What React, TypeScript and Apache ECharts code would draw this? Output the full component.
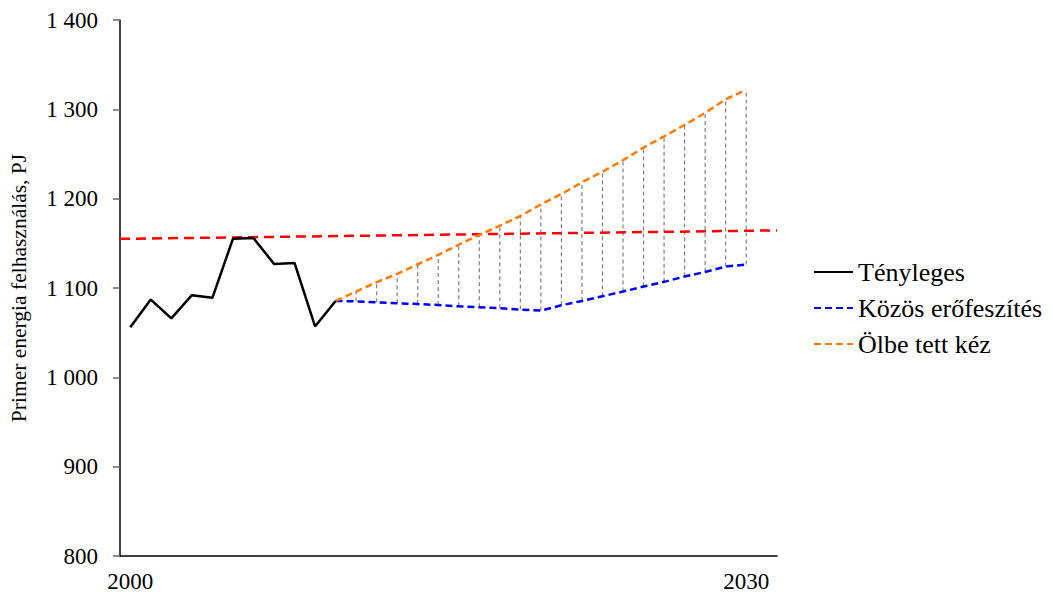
import React, { useEffect, useRef } from "react";
import * as echarts from "echarts";

const years: string[] = [];
for (let y = 2000; y <= 2031; y++) years.push(String(y));

const shownYearLabels = ["2000", "2030"];

const actual: (number | null)[] = [
  1056, 1087, 1066, 1092, 1089, 1155, 1156, 1127, 1128, 1057, 1085.5,
];

const jointEffort: (number | null)[] = [
  null, null, null, null, null, null, null, null, null, null,
  1085.5, 1085, 1084, 1083, 1082, 1081, 1079.5, 1078.4, 1077.3, 1075.8, 1074.7,
  1080.7, 1085.5, 1090.8, 1096, 1101.6, 1106.9, 1112.8, 1118, 1124, 1126.2,
];

const handsInLap: (number | null)[] = [
  null, null, null, null, null, null, null, null, null, null,
  1085.5, 1096, 1106.5, 1115.8, 1126.6, 1137, 1148.5, 1159.4, 1169.8, 1180.6, 1193.5,
  1205.2, 1218.3, 1230.2, 1243, 1257.1, 1269.8, 1282.5, 1296, 1311.3, 1321.7,
];

const referenceStart = 1155;
const referenceEnd = 1164.5;

const yTicks = { min: 800, max: 1400, interval: 100 };

const seriesNames = ["Tényleges", "Közös erőfeszítés", "Ölbe tett kéz"];

const FONT = '"Liberation Serif", "Times New Roman", serif';

export default function App() {
  const ref = useRef<HTMLDivElement>(null);

  useEffect(() => {
    if (!ref.current) return;
    const chart = echarts.init(ref.current, undefined, { renderer: "svg" });

    const gapData: number[][] = [];
    for (let i = 11; i < years.length; i++) {
      const lo = jointEffort[i];
      const hi = handsInLap[i];
      if (lo != null && hi != null) gapData.push([i, lo, hi]);
    }

    chart.setOption({
      animation: false,
      backgroundColor: "#ffffff",
      textStyle: { fontFamily: FONT },
      grid: { left: 118, right: 276, top: 20, bottom: 45, containLabel: false },
      legend: {
        data: seriesNames,
        orient: "vertical",
        left: 808,
        top: 254,
        itemWidth: 39,
        itemHeight: 14,
        itemGap: 10,
        itemStyle: { opacity: 0 },
        textStyle: { fontFamily: FONT, fontSize: 26, color: "#000" },
        selectedMode: false,
      },
      xAxis: [
        {
          type: "category",
          data: years,
          boundaryGap: true,
          axisLine: { lineStyle: { color: "#000", width: 1.5 } },
          axisTick: { show: false },
          axisLabel: {
            interval: 0,
            margin: 14,
            fontFamily: FONT,
            fontSize: 23,
            color: "#000",
            formatter: (v: string) => (shownYearLabels.includes(v) ? v : ""),
          },
          splitLine: { show: false },
        },
        {
          type: "value",
          min: 0,
          max: 1,
          show: false,
        },
      ],
      yAxis: {
        type: "value",
        min: yTicks.min,
        max: yTicks.max,
        interval: yTicks.interval,
        name: "Primer energia felhasználás, PJ",
        nameLocation: "middle",
        nameGap: 90,
        nameRotate: 90,
        nameTextStyle: { fontFamily: FONT, fontSize: 21.5, color: "#000" },
        axisLine: { show: true, lineStyle: { color: "#000", width: 1.5 } },
        axisTick: { show: true, length: 7, lineStyle: { color: "#666", width: 1.5 } },
        axisLabel: {
          margin: 22,
          fontFamily: FONT,
          fontSize: 23,
          color: "#000",
          formatter: (v: number) => String(v).replace(/\B(?=(\d{3})+(?!\d))/g, " "),
        },
        splitLine: { show: false },
      },
      series: [
        {
          name: "reference",
          type: "line",
          xAxisIndex: 1,
          data: [
            [0, referenceStart],
            [1, referenceEnd],
          ],
          symbol: "none",
          lineStyle: { color: "#FF0000", width: 2.5, type: [10, 6] },
          z: 3,
        },
        {
          name: "gap",
          type: "custom",
          xAxisIndex: 0,
          data: gapData,
          renderItem: (params: any, api: any) => {
            const x = api.value(0);
            const p1 = api.coord([x, api.value(1)]);
            const p2 = api.coord([x, api.value(2)]);
            return {
              type: "line",
              shape: { x1: p1[0], y1: p1[1], x2: p2[0], y2: p2[1] },
              style: { stroke: "#808080", lineWidth: 1.2, lineDash: [4, 3] },
            };
          },
          z: 1,
        },
        {
          name: seriesNames[0],
          type: "line",
          data: actual,
          symbol: "none",
          lineStyle: { color: "#000", width: 2.5 },
          itemStyle: { color: "#000" },
          z: 5,
        },
        {
          name: seriesNames[1],
          type: "line",
          data: jointEffort,
          symbol: "none",
          lineStyle: { color: "#0000FF", width: 2.5, type: [7, 4] },
          itemStyle: { color: "#0000FF" },
          z: 4,
        },
        {
          name: seriesNames[2],
          type: "line",
          data: handsInLap,
          symbol: "none",
          lineStyle: { color: "#FF7A00", width: 2.5, type: [7, 4] },
          itemStyle: { color: "#FF7A00" },
          z: 4,
        },
      ],
    });

    return () => chart.dispose();
  }, []);

  return <div ref={ref} style={{ width: 1053, height: 601, margin: -8 }} />;
}
